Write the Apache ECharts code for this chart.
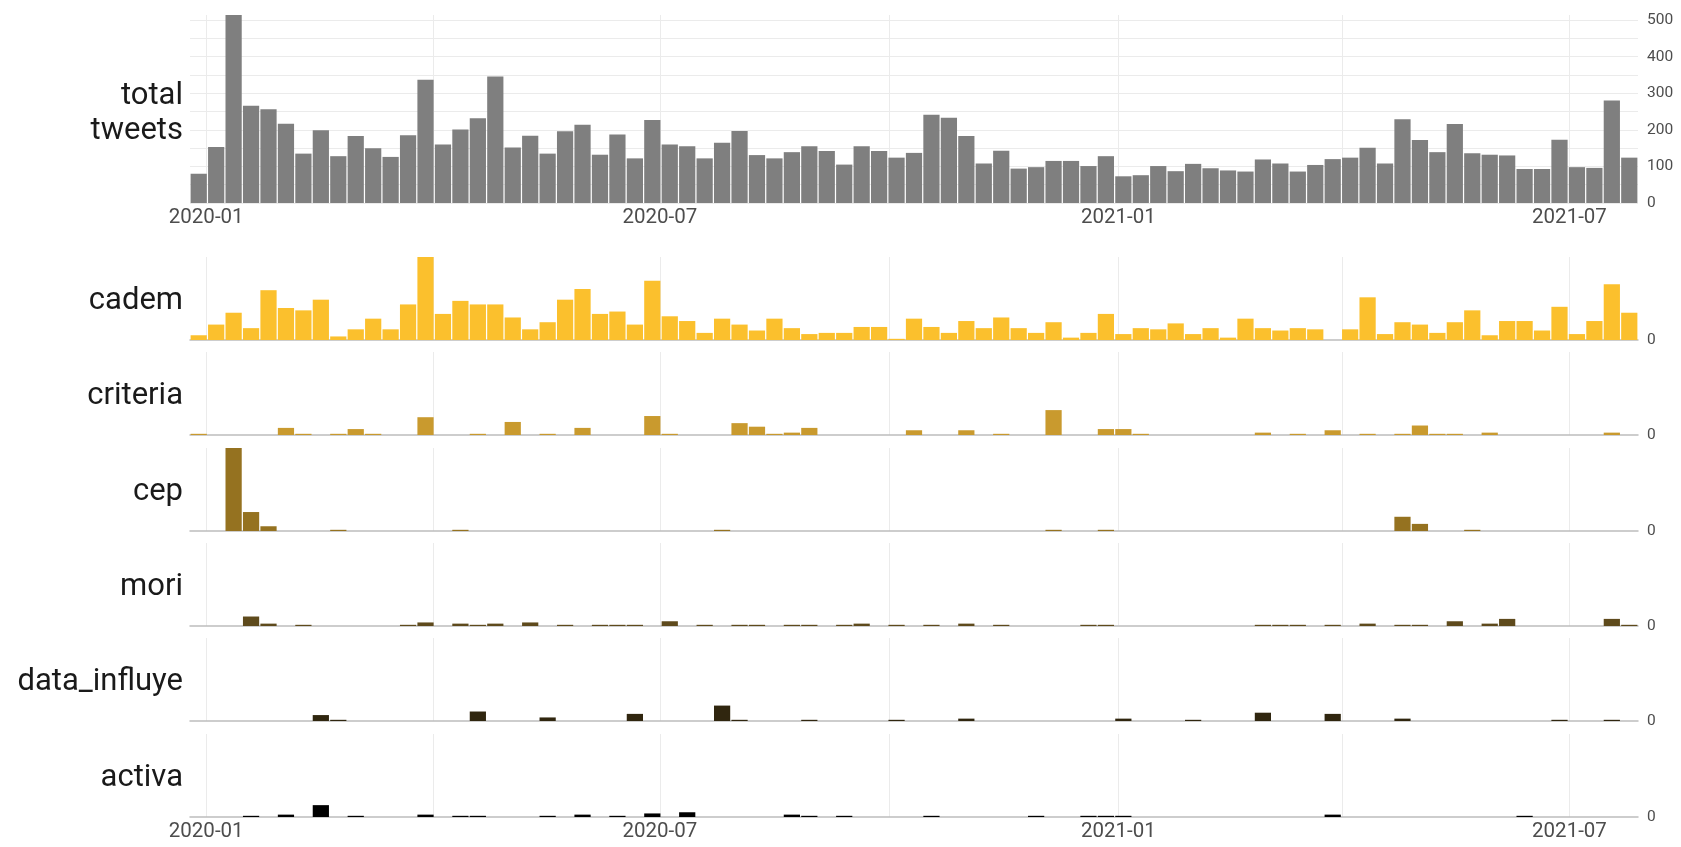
<!DOCTYPE html>
<html>
<head>
<meta charset="utf-8">
<title>tweets por semana</title>
<script src="https://cdn.jsdelivr.net/npm/echarts@6/dist/echarts.min.js"></script>
<style>
  html, body { margin: 0; padding: 0; background: #fff; }
  #main { width: 1681px; height: 847px; }
</style>
</head>
<body>
<div id="main"></div>
<script>
// semanas (domingo de inicio)
var weeks = [
  '2019-12-29', '2020-01-05', '2020-01-12', '2020-01-19', '2020-01-26', '2020-02-02', '2020-02-09', '2020-02-16',
  '2020-02-23', '2020-03-01', '2020-03-08', '2020-03-15', '2020-03-22', '2020-03-29', '2020-04-05', '2020-04-12',
  '2020-04-19', '2020-04-26', '2020-05-03', '2020-05-10', '2020-05-17', '2020-05-24', '2020-05-31', '2020-06-07',
  '2020-06-14', '2020-06-21', '2020-06-28', '2020-07-05', '2020-07-12', '2020-07-19', '2020-07-26', '2020-08-02',
  '2020-08-09', '2020-08-16', '2020-08-23', '2020-08-30', '2020-09-06', '2020-09-13', '2020-09-20', '2020-09-27',
  '2020-10-04', '2020-10-11', '2020-10-18', '2020-10-25', '2020-11-01', '2020-11-08', '2020-11-15', '2020-11-22',
  '2020-11-29', '2020-12-06', '2020-12-13', '2020-12-20', '2020-12-27', '2021-01-03', '2021-01-10', '2021-01-17',
  '2021-01-24', '2021-01-31', '2021-02-07', '2021-02-14', '2021-02-21', '2021-02-28', '2021-03-07', '2021-03-14',
  '2021-03-21', '2021-03-28', '2021-04-04', '2021-04-11', '2021-04-18', '2021-04-25', '2021-05-02', '2021-05-09',
  '2021-05-16', '2021-05-23', '2021-05-30', '2021-06-06', '2021-06-13', '2021-06-20', '2021-06-27', '2021-07-04',
  '2021-07-11', '2021-07-18', '2021-07-25'
];

// tweets totales por semana
var total = [
  80, 153, 514, 266, 256, 217, 135, 199, 128, 183, 150, 126, 185, 337, 160, 201,
  232, 346, 152, 184, 135, 196, 214, 132, 187, 122, 227, 160, 155, 122, 165, 197,
  131, 122, 139, 155, 142, 105, 155, 142, 124, 137, 241, 233, 183, 108, 143, 94,
  98, 115, 115, 101, 128, 73, 76, 101, 87, 107, 95, 89, 86, 119, 108, 86,
  104, 120, 124, 151, 108, 229, 172, 139, 216, 136, 132, 130, 93, 93, 173, 98,
  96, 280, 124
];

// tweets por encuestadora
var cadem = [
  4, 13, 23, 10, 42, 27, 25, 34, 3, 9, 18, 9, 30, 70, 22, 33,
  30, 30, 19, 9, 15, 34, 43, 22, 24, 13, 50, 20, 16, 6, 18, 13,
  8, 18, 10, 5, 6, 6, 11, 11, 1, 18, 11, 6, 16, 10, 19, 10,
  6, 15, 2, 6, 22, 5, 10, 9, 14, 5, 10, 2, 18, 10, 8, 10,
  9, 0, 9, 36, 5, 15, 13, 6, 15, 25, 4, 16, 16, 8, 28, 5,
  16, 47, 23
];
var criteria = [
  1, 0, 0, 0, 0, 6, 1, 0, 1, 5, 1, 0, 0, 15, 0, 0,
  1, 0, 11, 0, 1, 0, 6, 0, 0, 0, 16, 1, 0, 0, 0, 10,
  7, 1, 2, 6, 0, 0, 0, 0, 0, 4, 0, 0, 4, 0, 1, 0,
  0, 21, 0, 0, 5, 5, 1, 0, 0, 0, 0, 0, 0, 2, 0, 1,
  0, 4, 0, 1, 0, 1, 8, 1, 1, 0, 2, 0, 0, 0, 0, 0,
  0, 2, 0
];
var cep = [
  0, 0, 70, 16, 4, 0, 0, 0, 1, 0, 0, 0, 0, 0, 0, 1,
  0, 0, 0, 0, 0, 0, 0, 0, 0, 0, 0, 0, 0, 0, 1, 0,
  0, 0, 0, 0, 0, 0, 0, 0, 0, 0, 0, 0, 0, 0, 0, 0,
  0, 1, 0, 0, 1, 0, 0, 0, 0, 0, 0, 0, 0, 0, 0, 0,
  0, 0, 0, 0, 0, 12, 6, 0, 0, 1, 0, 0, 0, 0, 0, 0,
  0, 0, 0
];
var mori = [
  0, 0, 0, 8, 2, 0, 1, 0, 0, 0, 0, 0, 1, 3, 0, 2,
  1, 2, 0, 3, 0, 1, 0, 1, 1, 1, 0, 4, 0, 1, 0, 1,
  1, 0, 1, 1, 0, 1, 2, 0, 1, 0, 1, 0, 2, 0, 1, 0,
  0, 0, 0, 1, 1, 0, 0, 0, 0, 0, 0, 0, 0, 1, 1, 1,
  0, 1, 0, 2, 0, 1, 1, 0, 4, 0, 2, 6, 0, 0, 0, 0,
  0, 6, 1
];
var dataInfluye = [
  0, 0, 0, 0, 0, 0, 0, 5, 1, 0, 0, 0, 0, 0, 0, 0,
  8, 0, 0, 0, 3, 0, 0, 0, 0, 6, 0, 0, 0, 0, 13, 1,
  0, 0, 0, 1, 0, 0, 0, 0, 1, 0, 0, 0, 2, 0, 0, 0,
  0, 0, 0, 0, 0, 2, 0, 0, 0, 1, 0, 0, 0, 7, 0, 0,
  0, 6, 0, 0, 0, 2, 0, 0, 0, 0, 0, 0, 0, 0, 1, 0,
  0, 1, 0
];
var activa = [
  0, 0, 0, 1, 0, 2, 0, 10, 0, 1, 0, 0, 0, 2, 0, 1,
  1, 0, 0, 0, 1, 0, 2, 0, 1, 0, 3, 0, 4, 0, 0, 0,
  0, 0, 2, 1, 0, 1, 0, 0, 0, 0, 1, 0, 0, 0, 0, 0,
  1, 0, 0, 1, 1, 1, 0, 0, 0, 0, 0, 0, 0, 0, 0, 0,
  0, 2, 0, 0, 0, 0, 0, 0, 0, 0, 0, 0, 1, 0, 0, 0,
  0, 0, 0
];

// marcas del eje x
var quarterTicks = ['2020-01-01', '2020-04-01', '2020-07-01', '2020-10-01', '2021-01-01', '2021-04-01', '2021-07-01'];
var dateLabels = ['2020-01-01', '2020-07-01', '2021-01-01', '2021-07-01'];
// marcas del eje y (panel total)
var totalGrid = [0, 50, 100, 150, 200, 250, 300, 350, 400, 450, 500];
var totalLabels = [0, 100, 200, 300, 400, 500];

var panels = [
  { name: 'cadem', data: cadem, color: '#fbc02d' },
  { name: 'criteria', data: criteria, color: '#c99a2e' },
  { name: 'cep', data: cep, color: '#957220' },
  { name: 'mori', data: mori, color: '#5e4a1c' },
  { name: 'data_influye', data: dataInfluye, color: '#30260f' },
  { name: 'activa', data: activa, color: '#000000' }
];

function parseDay(s) {
  var p = s.split('-');
  return new Date(+p[0], +p[1] - 1, +p[2]).getTime();
}
function pad(n) { return n < 10 ? '0' + n : '' + n; }

var DAY = 24 * 3600 * 1000;
var weekTs = weeks.map(parseDay);
var xMin = weekTs[0] - 3.5 * DAY;
var xMax = weekTs[weekTs.length - 1] + 3.5 * DAY;
var quarterTs = quarterTicks.map(parseDay);
var labelTs = dateLabels.map(parseDay);

var lowerMax = 0;
panels.forEach(function (p) {
  lowerMax = Math.max(lowerMax, Math.max.apply(null, p.data));
});

var fontFamily = 'Roboto, "Noto Sans", sans-serif';
var textColor = '#4d4d4d';
var gridColor = '#ebebeb';

// posiciones de los paneles
var rows = [{ top: 15, height: 188 }];
for (var i = 0; i < panels.length; i++) {
  rows.push({ top: Math.round(257 + i * 95.3), height: 83 });
}

var grid = [], xAxis = [], yAxis = [], series = [], graphic = [];

rows.forEach(function (r, idx) {
  var isTop = idx === 0;
  var isLast = idx === rows.length - 1;
  grid.push({
    left: 190, right: 43, top: r.top, height: r.height,
    containLabel: false, outerBoundsMode: 'none'
  });
  // eje de fechas como eje numérico (timestamps)
  xAxis.push({
    type: 'value', gridIndex: idx, min: xMin, max: xMax,
    axisLine: {
      show: !isTop, onZero: true,
      lineStyle: { color: '#bdbdbd', width: 1.5 }
    },
    axisTick: { show: false, customValues: quarterTs },
    axisLabel: {
      show: isTop || isLast,
      customValues: labelTs,
      margin: 4,
      color: textColor, fontFamily: fontFamily, fontSize: 20.5,
      formatter: function (v) {
        var d = new Date(v);
        return d.getFullYear() + '-' + pad(d.getMonth() + 1);
      }
    },
    splitLine: { show: true, lineStyle: { color: gridColor, width: 1 } }
  });
  yAxis.push({
    type: 'value', gridIndex: idx, position: 'right',
    min: 0, max: isTop ? 'dataMax' : lowerMax,
    axisLine: { show: false },
    axisTick: { show: false, customValues: isTop ? totalGrid : [0] },
    axisLabel: {
      customValues: isTop ? totalLabels : [0],
      margin: 9,
      color: textColor, fontFamily: fontFamily, fontSize: 15.5
    },
    splitLine: { show: isTop, lineStyle: { color: gridColor, width: 1 } }
  });

  var name = isTop ? 'total\ntweets' : panels[idx - 1].name;
  var values = isTop ? total : panels[idx - 1].data;
  var color = isTop ? '#7f7f7f' : panels[idx - 1].color;

  series.push({
    type: 'bar', name: name,
    xAxisIndex: idx, yAxisIndex: idx,
    barWidth: '93%',
    itemStyle: { color: color },
    silent: true,
    data: weekTs.map(function (t, k) { return [t, values[k]]; })
  });

  // etiqueta del panel, a la izquierda
  graphic.push({
    type: 'text', x: 183, y: r.top + r.height / 2 + (isTop ? 5 : 3),
    style: {
      text: name,
      align: 'right', verticalAlign: 'middle',
      textAlign: 'right', textVerticalAlign: 'middle',
      fontFamily: fontFamily, fontSize: 31, lineHeight: 35,
      fill: '#1a1a1a'
    }
  });
});

var chart = echarts.init(document.getElementById('main'), null, { renderer: 'canvas' });
chart.setOption({
  backgroundColor: '#ffffff',
  animation: false,
  grid: grid,
  xAxis: xAxis,
  yAxis: yAxis,
  series: series,
  graphic: graphic
});
</script>
</body>
</html>
